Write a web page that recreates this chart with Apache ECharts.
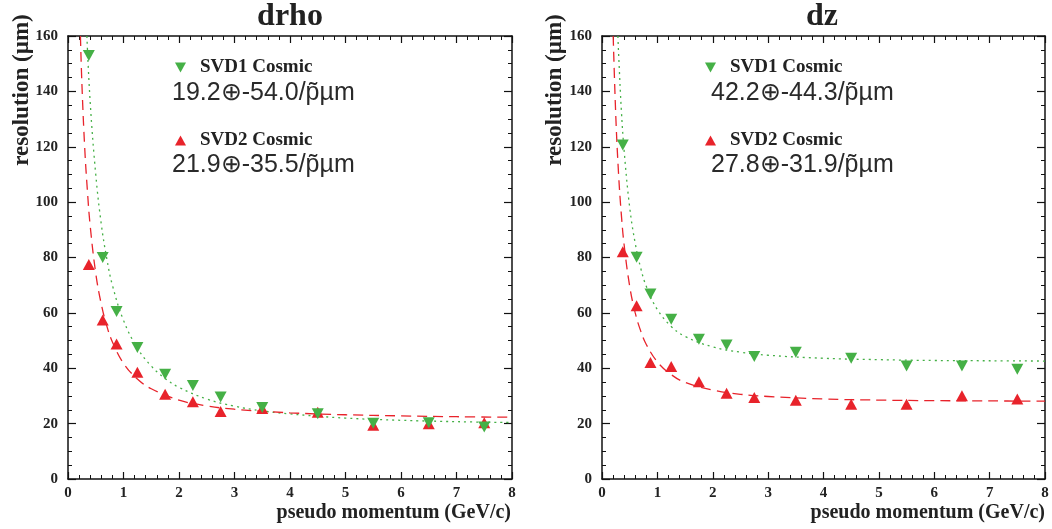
<!DOCTYPE html>
<html>
<head>
<meta charset="utf-8">
<script src="https://cdn.jsdelivr.net/npm/echarts@6/dist/echarts.min.js"></script>
<style>
html,body{margin:0;padding:0;background:#fff;}
#chart{width:1052px;height:529px;}
</style>
</head>
<body>
<div id="chart"></div>
<script>
// ---- data ----
const momentum = [0.375, 0.625, 0.875, 1.25, 1.75, 2.25, 2.75, 3.5, 4.5, 5.5, 6.5, 7.5];
const drhoSVD1 = [153, 80, 60.5, 47.5, 37.8, 33.8, 29.6, 25.8, 23.6, 20.1, 20.3, 18.8];
const drhoSVD2 = [77.5, 57.4, 48.8, 38.6, 30.6, 27.9, 24.4, 25.5, 24.1, 19.4, 20.0, 20.3];
const dzSVD1 = [120.6, 80.1, 66.8, 57.7, 50.5, 48.4, 44.2, 45.8, 43.6, 40.8, 40.8, 39.6];
const dzSVD2 = [82.1, 62.6, 42.1, 40.6, 35.1, 31.0, 29.4, 28.4, 27.0, 27.0, 30.1, 28.9];

// fit curves
const drhoFit1X = [0.34, 0.4, 0.5, 0.6, 0.7, 0.8, 1.0, 1.25, 1.5, 1.75, 2.0, 2.5, 3.0, 3.5, 4.0, 5.0, 6.0, 7.0, 8.0];
const drhoFit1Y = [160, 136, 110, 92, 79.5, 70, 57.3, 47.3, 40.8, 36.3, 33.1, 28.9, 26.3, 24.6, 23.5, 22.0, 21.2, 20.7, 20.4];
const drhoFit2X = [0.224, 0.25, 0.3, 0.35, 0.4, 0.5, 0.6, 0.7, 0.8, 1.0, 1.25, 1.5, 2.0, 2.5, 3.0, 4.0, 5.0, 6.0, 7.0, 8.0];
const drhoFit2Y = [160, 143, 120, 104, 91.4, 74.3, 63.1, 55.2, 49.5, 41.8, 36.1, 32.6, 28.5, 26.4, 25.2, 23.9, 23.2, 22.8, 22.5, 22.3];
const dzFit1X = [0.287, 0.3, 0.35, 0.4, 0.5, 0.6, 0.7, 0.8, 1.0, 1.25, 1.5, 2.0, 2.5, 3.0, 4.0, 5.0, 6.0, 7.0, 8.0];
const dzFit1Y = [160, 153.6, 133, 118.5, 98.1, 85.1, 76.1, 69.6, 61.2, 55.1, 51.5, 47.7, 45.8, 44.7, 43.6, 43.1, 42.8, 42.7, 42.6];
const dzFit2X = [0.202, 0.25, 0.3, 0.35, 0.4, 0.5, 0.6, 0.7, 0.8, 1.0, 1.25, 1.5, 2.0, 2.5, 3.0, 4.0, 5.0, 6.0, 7.0, 8.0];
const dzFit2Y = [160, 130.6, 109.9, 95.3, 84.5, 69.6, 60.0, 53.4, 48.6, 42.3, 37.7, 34.9, 32.1, 30.6, 29.8, 28.9, 28.5, 28.3, 28.2, 28.1];

const xTicks = [0, 1, 2, 3, 4, 5, 6, 7, 8];
const yTicks = [0, 20, 40, 60, 80, 100, 120, 140, 160];
const panelTitles = ['drho', 'dz'];
const seriesNames = ['SVD1 Cosmic', 'SVD2 Cosmic'];
const fitTexts = [['19.2\u2295-54.0/p\u0303\u00b5m', '21.9\u2295-35.5/p\u0303\u00b5m'],
                  ['42.2\u2295-44.3/p\u0303\u00b5m', '27.8\u2295-31.9/p\u0303\u00b5m']];
const yTitle = 'resolution (\u00b5m)';
const xTitle = 'pseudo momentum (GeV/c)';

// ---- build ----
const GREEN = '#45b046', RED = '#e8232b';
const SERIF = '"Liberation Serif", "DejaVu Serif", serif';
const SANS = '"Liberation Sans", Arial, sans-serif';
const zip = (xs, ys) => xs.map((x, i) => [x, ys[i]]);
const DOWN = 'path://M0,0 L10,0 L5,9 Z';
const UP = 'path://M5,0 L10,9 L0,9 Z';

const grids = [
  {left: 68, top: 36, width: 444, height: 443},
  {left: 602, top: 36, width: 443, height: 443}
];

const xAxes = [], yAxes = [], series = [], legends = [], graphics = [];
const axisLine = {show: true, onZero: false, lineStyle: {color: '#111', width: 1.5}};
grids.forEach((g, gi) => {
  ['bottom', 'top'].forEach((pos, k) => {
    xAxes.push({
      type: 'value', gridIndex: gi, position: pos, min: xTicks[0], max: xTicks[xTicks.length - 1], interval: 1,
      axisLine: axisLine,
      axisTick: {show: true, inside: true, length: 7, lineStyle: {color: '#111', width: 1.2}},
      minorTick: {show: true, splitNumber: 5, length: 4, lineStyle: {color: '#111', width: 1}},
      splitLine: {show: false},
      axisLabel: {show: k === 0, margin: 7, fontFamily: SERIF, fontWeight: 'bold', fontSize: 15, color: '#222'}
    });
  });
  ['left', 'right'].forEach((pos, k) => {
    yAxes.push({
      type: 'value', gridIndex: gi, position: pos, min: yTicks[0], max: yTicks[yTicks.length - 1], interval: 20,
      axisLine: axisLine,
      axisTick: {show: true, inside: true, length: 8, lineStyle: {color: '#111', width: 1.2}},
      minorTick: {show: true, splitNumber: 4, length: 4, lineStyle: {color: '#111', width: 1}},
      splitLine: {show: false},
      axisLabel: {show: k === 0, margin: 10, fontFamily: SERIF, fontWeight: 'bold', fontSize: 15, color: '#222'}
    });
  });
});

const panels = [
  {p1: drhoSVD1, p2: drhoSVD2, f1: zip(drhoFit1X, drhoFit1Y), f2: zip(drhoFit2X, drhoFit2Y)},
  {p1: dzSVD1, p2: dzSVD2, f1: zip(dzFit1X, dzFit1Y), f2: zip(dzFit2X, dzFit2Y)}
];
panels.forEach((p, gi) => {
  const xi = gi * 2, yi = gi * 2;
  series.push({
    type: 'line', name: 'fit1_' + gi, xAxisIndex: xi, yAxisIndex: yi, data: p.f1, smooth: 0.4,
    showSymbol: false, symbol: 'none', silent: true, clip: true,
    lineStyle: {color: GREEN, width: 1.3, type: [2, 4]}
  });
  series.push({
    type: 'line', name: 'fit2_' + gi, xAxisIndex: xi, yAxisIndex: yi, data: p.f2, smooth: 0.4,
    showSymbol: false, symbol: 'none', silent: true, clip: true,
    lineStyle: {color: RED, width: 1.3, type: [10, 6]}
  });
  series.push({
    type: 'scatter', name: seriesNames[1] + (gi ? ' ' : ''), xAxisIndex: xi, yAxisIndex: yi,
    data: zip(momentum, p.p2), symbol: UP, symbolSize: [12, 11], itemStyle: {color: RED, opacity: 1}, z: 5
  });
  series.push({
    type: 'scatter', name: seriesNames[0] + (gi ? ' ' : ''), xAxisIndex: xi, yAxisIndex: yi,
    data: zip(momentum, p.p1), symbol: DOWN, symbolSize: [12, 11], itemStyle: {color: GREEN, opacity: 1}, z: 6
  });
});

const legPos = [
  {x1: 175, fx: 172, y1: 58, y2: 131, fy1: 96, fy2: 168},
  {x1: 705, fx: 711, y1: 58, y2: 131, fy1: 96, fy2: 168}
];
legPos.forEach((lp, gi) => {
  const sfx = gi ? ' ' : '';
  [[seriesNames[0] + sfx, DOWN, lp.y1], [seriesNames[1] + sfx, UP, lp.y2]].forEach(([nm, ic, y]) => {
    legends.push({
      data: [{name: nm, icon: ic, itemStyle: {opacity: 1}}], left: lp.x1, top: y, itemWidth: 11, itemHeight: 10, itemGap: 0,
      selectedMode: false, padding: 0,
      textStyle: {fontFamily: SERIF, fontWeight: 'bold', fontSize: 19, color: '#222', padding: [0, 0, 0, 9]}
    });
  });
  graphics.push({type: 'text', left: lp.fx, top: lp.fy1 - 15, style: {text: fitTexts[gi][0], font: '25px ' + SANS, fill: '#2a2a2a'}});
  graphics.push({type: 'text', left: lp.fx, top: lp.fy2 - 15, style: {text: fitTexts[gi][1], font: '25px ' + SANS, fill: '#2a2a2a'}});
});

// titles & axis names
const titleX = [290, 822];
const yNameX = [22, 555];
const xNameRight = [511, 1045];
grids.forEach((g, gi) => {
  graphics.push({type: 'text', x: titleX[gi], y: 17, style: {text: panelTitles[gi], font: 'bold 32px ' + SERIF, fill: '#222', align: 'center', verticalAlign: 'middle'}});
  graphics.push({type: 'text', x: yNameX[gi], y: 90, rotation: Math.PI / 2, style: {text: yTitle, font: 'bold 23px ' + SERIF, fill: '#222', align: 'center', verticalAlign: 'middle'}});
  graphics.push({type: 'text', x: xNameRight[gi], y: 513, style: {text: xTitle, font: 'bold 20px ' + SERIF, fill: '#222', align: 'right', verticalAlign: 'middle'}});
});

const chart = echarts.init(document.getElementById('chart'), null, {renderer: 'canvas'});
chart.setOption({
  animation: false,
  backgroundColor: '#fff',
  grid: grids,
  xAxis: xAxes,
  yAxis: yAxes,
  legend: legends,
  series: series,
  graphic: graphics
});
</script>
</body>
</html>
